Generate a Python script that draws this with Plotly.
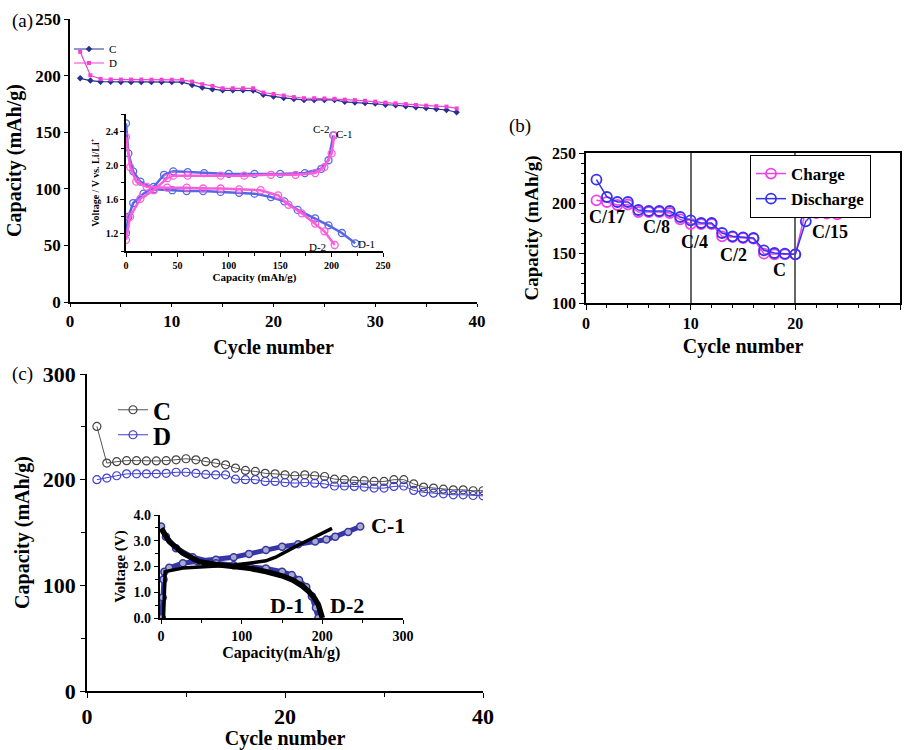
import plotly.graph_objects as go

SERIF = "Liberation Serif, Times New Roman, serif"

# ---------------- Panel (a) main: capacity vs cycle ----------------
a_cycles = list(range(1, 39))
a_C = [197.6, 195.6, 194.6, 194.5, 194.4, 194.4, 194.4, 194.3, 194.3, 194.3, 194.3,
       191.8, 189.4, 188.0, 187.0, 187.0, 187.0, 186.8, 183.0, 181.5, 180.3, 179.4,
       178.5, 178.5, 178.5, 178.5, 176.8, 176.3, 175.8, 175.3, 174.3, 173.8, 173.0,
       172.0, 171.4, 170.4, 169.6, 167.6]
a_D = [221.0, 200.3, 197.0, 196.6, 196.5, 196.5, 196.5, 196.4, 196.4, 196.4, 196.3,
       194.7, 192.4, 190.9, 188.8, 188.8, 188.8, 188.8, 185.0, 183.8, 182.4, 181.0,
       180.0, 180.0, 179.8, 179.5, 178.8, 178.3, 177.8, 177.0, 176.2, 175.5, 174.8,
       174.0, 173.5, 173.0, 172.6, 171.0]

# ---------------- Panel (a) inset: voltage profiles ----------------
a_c1_cap = [0, 2.3, 7, 17, 27, 37, 46, 60, 76, 100, 125, 150, 174, 190, 197, 201.6]
a_c1_v = [1.21, 1.40, 1.56, 1.67, 1.75, 1.89, 1.93, 1.92, 1.91, 1.90, 1.90, 1.90, 1.91, 1.96, 2.06, 2.35]
a_c2_cap = [0, 4, 14, 27, 40, 46, 60, 92, 115, 141, 165, 184, 193, 200, 202.6]
a_c2_v = [1.13, 1.40, 1.61, 1.71, 1.85, 1.88, 1.88, 1.88, 1.88, 1.89, 1.89, 1.91, 1.98, 2.14, 2.35]
a_d1_cap = [0, 2.3, 7, 14, 27, 45, 59, 75, 92, 110, 125, 141, 154, 167, 184, 197, 210, 223]
a_d1_v = [2.49, 2.14, 1.93, 1.81, 1.72, 1.71, 1.70, 1.70, 1.69, 1.68, 1.67, 1.63, 1.58, 1.48, 1.38, 1.30, 1.21, 1.09]
a_d2_cap = [0, 4, 10, 20, 40, 59, 75, 92, 110, 131, 148, 158, 171, 184, 193, 203]
a_d2_v = [2.33, 1.98, 1.81, 1.75, 1.74, 1.74, 1.73, 1.73, 1.72, 1.71, 1.65, 1.54, 1.44, 1.32, 1.23, 1.07]

# ---------------- Panel (b): rate capability ----------------
b_cycles = list(range(1, 25))
b_charge = [202.7, 201.0, 198.0, 198.5, 191.0, 191.0, 191.0, 190.0, 183.7, 179.0, 179.0, 179.0,
            166.7, 166.0, 165.0, 164.3, 149.3, 148.7, 148.7, 148.7, 192.7, 190.0, 189.3, 188.7]
b_discharge = [223.3, 206.0, 201.0, 201.0, 193.0, 192.0, 192.0, 192.0, 186.0, 182.7, 180.0, 180.0,
               170.0, 166.7, 165.7, 165.0, 152.7, 150.0, 149.3, 148.7, 181.7, 192.7, 191.7, 190.7]
b_rates = ["C/17", "C/8", "C/4", "C/2", "C", "C/15"]

# ---------------- Panel (c) main ----------------
c_cycles = list(range(1, 41))
c_C = [250.4, 215.7, 217.0, 218.0, 218.0, 217.7, 217.7, 218.0, 218.8, 219.8, 218.8, 217.0,
       215.7, 214.0, 211.0, 208.7, 207.8, 206.0, 205.5, 204.6, 203.7, 204.6, 203.7, 203.0,
       200.5, 200.0, 199.0, 199.0, 198.3, 198.3, 200.0, 200.0, 196.0, 193.0, 192.0, 191.0,
       190.4, 190.4, 189.5, 189.5]
c_D = [200.0, 201.5, 203.7, 205.5, 205.5, 205.5, 205.5, 206.0, 207.0, 207.0, 206.0, 205.0,
       204.6, 204.6, 200.5, 200.0, 200.0, 198.3, 198.3, 197.3, 196.7, 197.3, 196.7, 196.0,
       194.0, 194.0, 193.6, 193.0, 192.0, 192.0, 193.6, 194.0, 189.8, 188.0, 187.2, 186.6,
       185.7, 185.7, 185.0, 184.7]

# ---------------- Panel (c) inset ----------------
c_c1_cap = [1, 2, 3, 4, 10, 27, 45, 68, 90, 109, 130, 150, 170, 191, 205, 216, 232, 247]
c_c1_v = [0.0, 0.8, 1.5, 1.8, 1.95, 2.13, 2.2, 2.26, 2.36, 2.49, 2.64, 2.77, 2.86, 2.97, 3.05, 3.16, 3.34, 3.55]
c_c2_cap = [3, 3.5, 4, 5, 27, 50, 68, 90, 109, 130, 142, 158, 170, 183, 198, 212]
c_c2_v = [0.0, 0.9, 1.5, 1.8, 1.94, 1.98, 2.0, 2.06, 2.13, 2.22, 2.36, 2.65, 2.83, 3.03, 3.25, 3.48]
c_d1_cap = [0, 6, 18.5, 39, 68, 90, 109, 130, 150, 162, 171, 180, 187, 192, 195]
c_d1_v = [3.55, 3.16, 2.71, 2.36, 2.13, 2.05, 2.0, 1.92, 1.8, 1.67, 1.48, 1.2, 0.84, 0.4, 0.0]
c_d2_cap = [0, 10, 27, 47, 68, 88, 110, 130, 150, 163, 175, 183, 190, 195, 200]
c_d2_v = [3.48, 2.97, 2.52, 2.19, 2.08, 2.03, 1.93, 1.8, 1.64, 1.48, 1.25, 1.03, 0.78, 0.52, 0.0]

W, H = 907, 750

def fx(px):
    return px / W

def fy(py):
    return 1 - py / H

fig = go.Figure()

def bold(size):
    return dict(family=SERIF, size=size, color="black", weight="bold")

# (a) main
fig.add_trace(go.Scatter(x=a_cycles, y=a_C, name="C", mode="lines+markers",
                         line=dict(color="#26318f", width=1.2),
                         marker=dict(symbol="diamond", size=5, color="#26318f"),
                         xaxis="x", yaxis="y", legend="legend"))
fig.add_trace(go.Scatter(x=a_cycles, y=a_D, name="D", mode="lines+markers",
                         line=dict(color="#f53fd6", width=1.2),
                         marker=dict(symbol="square", size=4, color="#f53fd6"),
                         xaxis="x", yaxis="y", legend="legend4"))

# (a) inset
BLUE_A = "#5567e6"
MAG_A = "#ff5bdc"
for cap, v, col in [(a_d1_cap, a_d1_v, BLUE_A), (a_c1_cap, a_c1_v, BLUE_A),
                    (a_d2_cap, a_d2_v, MAG_A), (a_c2_cap, a_c2_v, MAG_A)]:
    fig.add_trace(go.Scatter(x=cap, y=v, mode="lines+markers", showlegend=False,
                             line=dict(color=col, width=2.5),
                             marker=dict(symbol="circle-open", size=7, color=col, line=dict(width=1.3)),
                             xaxis="x2", yaxis="y2"))

# (b)
fig.add_trace(go.Scatter(x=b_cycles, y=b_charge, name="Charge", mode="lines+markers",
                         line=dict(color="#f040e8", width=1.5),
                         marker=dict(symbol="circle-open", size=10, color="#f040e8", line=dict(width=1.8)),
                         xaxis="x3", yaxis="y3", legend="legend2"))
fig.add_trace(go.Scatter(x=b_cycles, y=b_discharge, name="Discharge", mode="lines+markers",
                         line=dict(color="#3434f0", width=1.5),
                         marker=dict(symbol="circle-open", size=10, color="#3434f0", line=dict(width=1.8)),
                         xaxis="x3", yaxis="y3", legend="legend2"))

# (c) main
fig.add_trace(go.Scatter(x=c_cycles, y=c_C, name="C", mode="lines+markers",
                         line=dict(color="#555555", width=1),
                         marker=dict(symbol="circle-open", size=8, color="#444444", line=dict(width=1.2)),
                         xaxis="x4", yaxis="y4", legend="legend3"))
fig.add_trace(go.Scatter(x=c_cycles, y=c_D, name="D", mode="lines+markers",
                         line=dict(color="#4040d0", width=1),
                         marker=dict(symbol="circle-open", size=8, color="#4040d0", line=dict(width=1.2)),
                         xaxis="x4", yaxis="y4", legend="legend5"))

# (c) inset
BLUE_C = "#3535a8"
for cap, v in [(c_c1_cap, c_c1_v), (c_d1_cap, c_d1_v)]:
    fig.add_trace(go.Scatter(x=cap, y=v, mode="lines+markers", showlegend=False,
                             line=dict(color=BLUE_C, width=5),
                             marker=dict(symbol="circle", size=7, color="#a9a9c8",
                                         line=dict(color=BLUE_C, width=1.5)),
                             xaxis="x5", yaxis="y5"))
for cap, v, w in [(c_c2_cap, c_c2_v, 3.5), (c_d2_cap, c_d2_v, 5.5)]:
    fig.add_trace(go.Scatter(x=cap, y=v, mode="lines", showlegend=False,
                             line=dict(color="black", width=w),
                             xaxis="x5", yaxis="y5"))

def ax(**kw):
    base = dict(showline=True, linecolor="black", linewidth=1.5, ticks="outside",
                tickcolor="black", tickwidth=1.2, showgrid=False, zeroline=False,
                automargin=False)
    base.update(kw)
    return base

def leg(xp, yp, font, **kw):
    d = dict(x=fx(xp), y=fy(yp), xanchor="left", yanchor="middle", bgcolor="rgba(0,0,0,0)",
             font=font, itemwidth=30, tracegroupgap=0)
    d.update(kw)
    return d

fig.update_layout(
    width=W, height=H, margin=dict(l=0, r=0, t=0, b=0, autoexpand=False),
    paper_bgcolor="white", plot_bgcolor="rgba(0,0,0,0)",
    font=dict(family=SERIF, color="black"),
    # (a) main
    xaxis=ax(domain=[fx(70), fx(477)], range=[0, 40], dtick=10, ticklen=3,
             minor=dict(dtick=5, ticks="outside", ticklen=3, tickcolor="black"),
             tickfont=bold(17), anchor="y",
             title=dict(text="Cycle number", font=bold(20), standoff=10)),
    yaxis=ax(domain=[fy(302), fy(19)], range=[0, 250], dtick=50, ticklen=4,
             tickfont=bold(17), anchor="x",
             title=dict(text="Capacity (mAh/g)", font=bold(20), standoff=8)),
    # (a) inset
    xaxis2=ax(domain=[fx(126), fx(383)], range=[0, 250], dtick=50, ticklen=4,
              minor=dict(dtick=25, ticks="outside", ticklen=3, tickcolor="black"),
              tickfont=bold(10), anchor="y2",
              title=dict(text="Capacity (mAh/g)", font=bold(11), standoff=2)),
    yaxis2=ax(domain=[fy(251), fy(114)], range=[1.0, 2.6], dtick=0.4, tickformat=".1f", ticklen=4,
              minor=dict(dtick=0.2, ticks="outside", ticklen=3, tickcolor="black"),
              tickfont=bold(10), anchor="x2",
              title=dict(text="Voltage / V vs. Li/Li<sup>+</sup>", font=bold(10), standoff=4)),
    # (b)
    xaxis3=ax(domain=[fx(586), fx(900)], range=[0, 30], dtick=10, ticklen=5, mirror=True,
              showgrid=True, gridcolor="#666666", gridwidth=1.5,
              minor=dict(dtick=2, ticks="outside", ticklen=3, tickcolor="black"),
              tickfont=bold(16), anchor="y3",
              title=dict(text="Cycle number", font=bold(20), standoff=8)),
    yaxis3=ax(domain=[fy(303), fy(153)], range=[100, 250], dtick=50, ticklen=5, mirror=True,
              minor=dict(dtick=10, ticks="outside", ticklen=3, tickcolor="black"),
              tickfont=bold(16), anchor="x3",
              title=dict(text="Capacity (mAh/g)", font=bold(19), standoff=8)),
    # (c) main
    xaxis4=ax(domain=[fx(87), fx(483)], range=[0, 40], dtick=20, ticklen=5,
              minor=dict(dtick=10, ticks="outside", ticklen=4, tickcolor="black"),
              tickfont=bold(22), anchor="y4",
              title=dict(text="Cycle number", font=bold(20), standoff=9)),
    yaxis4=ax(domain=[fy(691), fy(374)], range=[0, 300], dtick=100, ticklen=5,
              minor=dict(dtick=50, ticks="outside", ticklen=4, tickcolor="black"),
              tickfont=bold(22), anchor="x4",
              title=dict(text="Capacity (mAh/g)", font=bold(20), standoff=8)),
    # (c) inset
    xaxis5=ax(domain=[fx(159.5), fx(403)], range=[-2, 300], dtick=100, ticklen=4,
              minor=dict(dtick=50, ticks="outside", ticklen=3, tickcolor="black"),
              tickfont=bold(14), anchor="y5",
              title=dict(text="Capacity(mAh/g)", font=bold(16), standoff=2)),
    yaxis5=ax(domain=[fy(618), fy(515)], range=[0, 4], dtick=1, tickformat=".1f", ticklen=4,
              minor=dict(dtick=0.5, ticks="outside", ticklen=3, tickcolor="black"),
              tickfont=bold(14), anchor="x5",
              title=dict(text="Voltage (V)", font=bold(15), standoff=4)),
    legend=leg(69, 49, dict(family=SERIF, size=11, color="black")),
    legend4=leg(69, 63, dict(family=SERIF, size=11, color="black")),
    legend2=dict(x=fx(750), y=fy(155), xanchor="left", yanchor="top", bgcolor="white",
                 bordercolor="black", borderwidth=1,
                 font=bold(17), itemwidth=30, tracegroupgap=0),
    legend3=leg(113, 410, bold(25)),
    legend5=leg(113, 435, bold(25)),
)

ann = []
# panel letters
for txt, px, py in [("(a)", 10, 21), ("(b)", 507, 126), ("(c)", 10, 374)]:
    ann.append(dict(text=txt, x=fx(px), y=fy(py), xref="paper", yref="paper", xanchor="left", yanchor="middle",
                    showarrow=False, font=dict(family=SERIF, size=19, color="black")))
# (b) rate labels
for txt, xx, yy in zip(b_rates, [2.0, 6.75, 10.4, 14.1, 18.5, 23.3], [186, 176, 161, 147.7, 132.7, 171]):
    ann.append(dict(text=txt, x=xx, y=yy, xref="x3", yref="y3", showarrow=False, font=bold(18)))
# (a) inset labels
for txt, xx, yy in [("C-2", 190, 2.43), ("C-1", 213, 2.37), ("D-2", 186, 1.05), ("D-1", 234, 1.08)]:
    ann.append(dict(text=txt, x=xx, y=yy, xref="x2", yref="y2", showarrow=False,
                    font=dict(family=SERIF, size=11, color="black")))
# (c) inset labels
for txt, xx, yy in [("C-2", 207, 4.05), ("C-1", 281, 3.58), ("D-1", 156, 0.5), ("D-2", 230, 0.5)]:
    ann.append(dict(text=txt, x=xx, y=yy, xref="x5", yref="y5", showarrow=False, font=bold(22)))
fig.update_layout(annotations=ann)

fig.write_html("out.html", config={"displayModeBar": False},
               post_script="document.body.style.margin='0';document.body.style.padding='0';")
